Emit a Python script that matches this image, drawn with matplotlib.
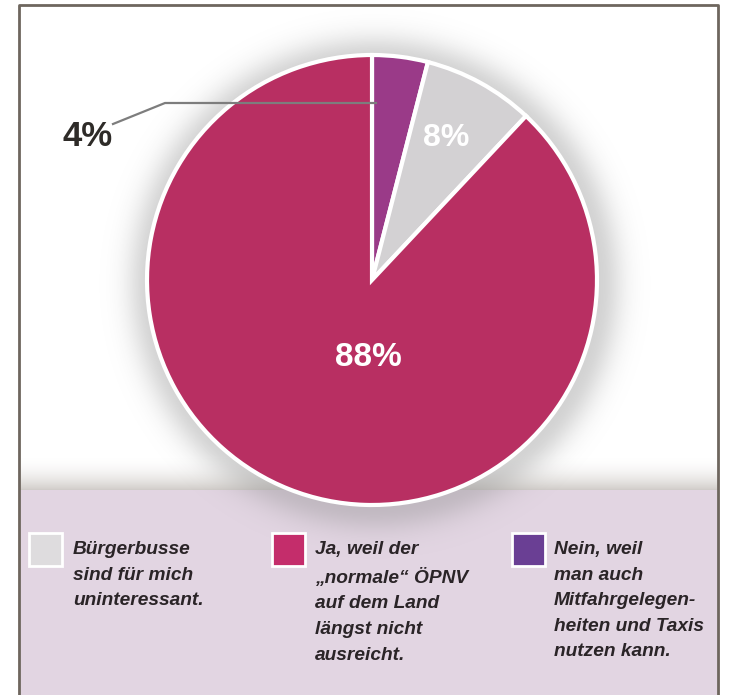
import numpy as np
import matplotlib.pyplot as plt
from matplotlib.patches import Rectangle

# data
shares = [4, 8, 88]
pct_labels = ["4%", "8%", "88%"]
colors = ["#9a3a88", "#d3d1d3", "#b82f62"]
legend_texts = [
    "Bürgerbusse\nsind für mich\nuninteressant.",
    "Ja, weil der\n„normale“ ÖPNV\nauf dem Land\nlängst nicht\nausreicht.",
    "Nein, weil\nman auch\nMitfahrgelegen-\nheiten und Taxis\nnutzen kann.",
]
legend_colors = ["#dedcde", "#c42d6b", "#6a3f94"]

W, H = 732, 695
plt.rcParams['font.family'] = ['Liberation Sans', 'DejaVu Sans']

fig = plt.figure(figsize=(W / 100, H / 100), dpi=100)
ax = fig.add_axes([0, 0, 1, 1])

def py(y):
    # pixel row -> data y
    return H - y

cx, cy, r = 372, py(280), 225

# bottom panel + shading strip above it
ax.add_patch(Rectangle((19, 0), 699, py(490), color="#e2d5e2", zorder=0))
grad = np.linspace(0, 1, 60) ** 2
strip = np.ones((60, 1, 4))
strip[:, 0, :3] = np.array([0.78, 0.76, 0.74])
strip[:, 0, 3] = grad * 0.8
ax.imshow(strip, extent=(19, 718, py(490), py(455)), aspect="auto", zorder=1)

# soft shadow around the pie
xx, yy = np.meshgrid(np.linspace(0, W, 366), np.linspace(H, 0, 348))
d = np.hypot(xx - cx - 3, yy - cy + 3)
alpha = np.where(d > r, np.exp(-((d - r) / 24.0) ** 2), 1.0) * 0.38
sh = np.zeros((348, 366, 4))
sh[..., :3] = 0.55
sh[..., 3] = alpha
ax.imshow(sh, extent=(0, W, 0, H), aspect="auto", zorder=2, interpolation="bilinear")

wedges, _ = ax.pie(shares, colors=colors, startangle=90, counterclock=False,
                   center=(cx, cy), radius=r, frame=True,
                   wedgeprops=dict(edgecolor="white", linewidth=3))
for w in wedges:
    w.set_zorder(3)
ax.set_xlim(0, W)
ax.set_ylim(0, H)
ax.set_aspect("auto")
ax.axis("off")

# percentage labels
ax.plot([113, 165, 376], [py(124), py(103), py(103)], color="#7d7d7d", lw=1.6, zorder=4)
ax.text(88, py(137), pct_labels[0], fontsize=25, fontweight="bold", color="#2e2b28",
        ha="center", va="center", zorder=5)
ax.text(446, py(138), pct_labels[1], fontsize=23, fontweight="bold", color="white",
        ha="center", va="center", zorder=5)
ax.text(368, py(357), pct_labels[2], fontsize=24, fontweight="bold", color="white",
        ha="center", va="center", zorder=5)

# legend
box_x = [29, 272, 512]
txt_x = [73, 315, 554]
for bx, tx, txt, col in zip(box_x, txt_x, legend_texts, legend_colors):
    ax.add_patch(Rectangle((bx, py(566)), 33, 33, facecolor=col, edgecolor="white",
                           lw=2, zorder=4))
    ax.text(tx, py(541), txt, fontsize=13.8, fontweight="bold", fontstyle="italic",
            color="#2a2427", ha="left", va="top", linespacing=1.66, zorder=5)

# frame
ax.plot([19, 19, 718, 718], [0, py(5), py(5), 0], color="#6e665e", lw=2, zorder=6)

fig.savefig("out.png", dpi=100)
